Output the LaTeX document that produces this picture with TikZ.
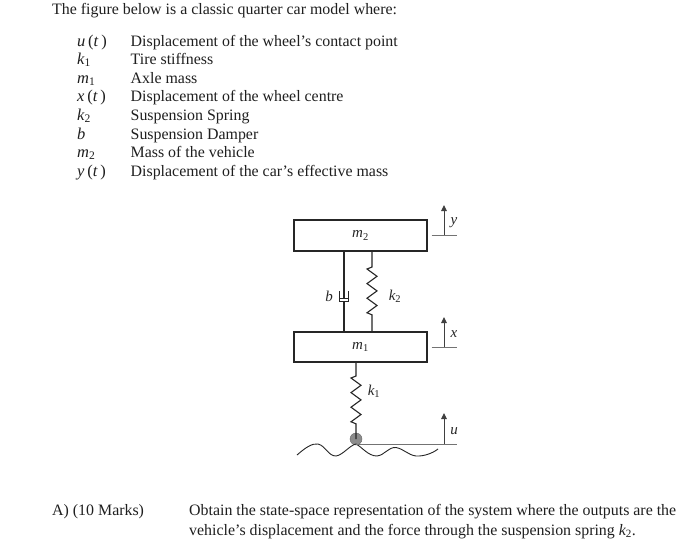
\documentclass[tikz,border=0pt]{standalone}
\usepackage{amsmath}
\usepackage{fontspec}
\setmainfont{Liberation Serif}
\usetikzlibrary{arrows.meta}
\newcommand{\vv}[2]{$\textit{#1}_{\textrm{#2}}$}
\newcommand{\fn}[1]{\textit{#1}\,(\textit{t}\,)}
\newcommand{\zigzagrun}{-- ++(-5,2) -- ++(10,7.3) -- ++(-10,7.3) -- ++(10,7.3) -- ++(-10,7.3) -- ++(10,7.3) -- ++(-10,7.3) -- ++(5,2)}
\tikzset{
  txt/.style={anchor=base west,inner sep=0pt,font=\fontsize{15.9}{18}\selectfont,text=black!88},
  sym/.style={anchor=base west,inner sep=0pt,font=\fontsize{16.5}{18}\selectfont,text=black!88},
  lab/.style={anchor=center,inner sep=0pt,font=\fontsize{15}{17}\selectfont,text=black!85},
  massbox/.style={draw=black!85,line width=1.3pt,minimum width=133pt,inner sep=0pt,font=\fontsize{15}{17}\selectfont,text=black!85},
  link/.style={draw=black!85,line width=1.1pt},
  datum/.style={draw=black!55,line width=0.8pt},
  up/.style={draw=black!75,line width=1pt,-{Triangle[length=6pt,width=5.5pt]}},
}
\begin{document}
\begin{tikzpicture}[x=1pt,y=-1pt]
\useasboundingbox[fill=white] (0,0) rectangle (700,549);
\node[txt] (title) at (52,14) {The figure below is a classic quarter car model where:};
\foreach \n/\s/\t/\y in {
 a/{\fn{u}}/{Displacement of the wheel’s contact point}/46,
 b/{\vv{k}{1}}/{Tire stiffness}/64,
 c/{\vv{m}{1}}/{Axle mass}/83,
 d/{\fn{x}}/{Displacement of the wheel centre}/101,
 e/{\vv{k}{2}}/{Suspension Spring}/120,
 f/{\textit{b}}/{Suspension Damper}/139,
 g/{\vv{m}{2}}/{Mass of the vehicle}/157,
 h/{\fn{y}}/{Displacement of the car’s effective mass}/176}{
  \node[sym] (s\n) at (77,\y) {\s};
  \node[txt] (t\n) at (130.5,\y) {\t};
}
\node[txt] (marks) at (52,515) {A) (10 Marks)};
\node[txt] (q1) at (189,515) {Obtain the state-space representation of the system where the outputs are the};
\node[txt] (q2) at (189,535) {vehicle’s displacement and the force through the suspension spring \vv{k}{2}.};
% masses
\node[massbox,minimum height=31pt] (m2) at (360.5,235.5) {\vv{m}{2}};
\node[massbox,minimum height=30pt] (m1) at (360.5,347) {\vv{m}{1}};
% damper
\coordinate (dtop) at (344,251);
\coordinate (dbot) at (344,332);
\coordinate (d1) at (344,298);
\coordinate (d2) at (344,301);
\draw[link] (dtop) -- (d1);
\draw[link] (dbot) -- (d2);
\draw[link,line width=1pt] (339.5,291) -- (339.5,301.5) -- (348,301.5) -- (348,291);
\draw[link,line width=1pt] (339.5,298) -- (348,298);
\node[lab] (lb) at (329,296) {\textit{b}};
% spring k2
\coordinate (s2a) at (372,251);
\coordinate (s2b) at (372,267);
\coordinate (s2d) at (372,332);
\draw[link] (s2a) -- (s2b) \zigzagrun -- (s2d);
\node[lab] (lk2) at (395,296) {\vv{k}{2}};
% spring k1
\coordinate (s1a) at (356,362);
\coordinate (s1b) at (356,376);
\node[lab] (lk1) at (374,391) {\vv{k}{1}};
\node[circle,draw=black!60,fill=black!45,minimum size=12pt,inner sep=0pt] (wheel) at (356,439) {};
\draw[link] (s1a) -- (s1b) \zigzagrun -- (wheel.center);
% ground
\draw[draw=black!85,line width=0.9pt] (297,455) .. controls (305,448) and (312,443) .. (318,444)
  .. controls (326,446) and (328,456) .. (336,456)
  .. controls (343,455) and (350,445) .. (356,444)
  .. controls (362,447) and (368,456) .. (377,456)
  .. controls (385,455) and (388,447) .. (396,447.5)
  .. controls (404,449) and (408,455) .. (416,456)
  .. controls (424,456.5) and (433,453) .. (438,449);
% datum lines and arrows
\coordinate (yb) at (444,235); \coordinate (yt) at (444,205);
\coordinate (xb) at (444,347); \coordinate (xt) at (444,317);
\coordinate (ub) at (444,444); \coordinate (ut) at (444,413);
\coordinate (ul) at (356,444); \coordinate (ur) at (457,444);
\draw[datum] (431.5,235) -- (457,235);
\draw[datum] (431.5,347) -- (457,347);
\draw[datum] (ul) -- (ur);
\draw[up] (yb) -- (yt);
\draw[up] (xb) -- (xt);
\draw[up] (ub) -- (ut);
\node[lab] (ly) at (454,223) {\textit{y}};
\node[lab] (lx) at (454,334) {\textit{x}};
\node[lab] (lu) at (454,431) {\textit{u}};
\end{tikzpicture}
\end{document}
